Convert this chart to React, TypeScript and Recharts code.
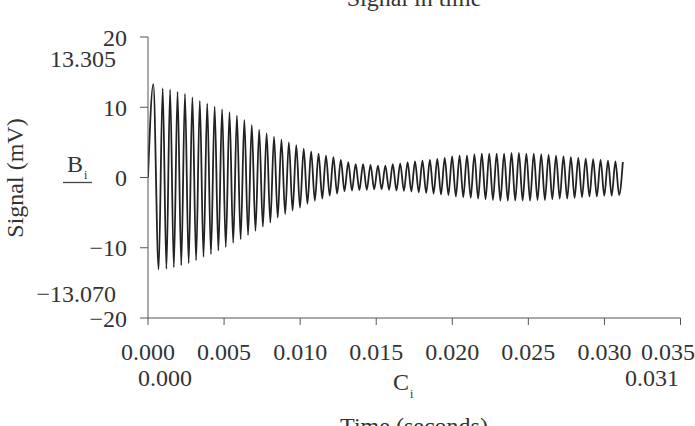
import React from "react";
import { LineChart, Line, XAxis, YAxis } from "recharts";

const xTicks = [0, 0.005, 0.01, 0.015, 0.02, 0.025, 0.03, 0.035];
const yTicks = [-20, -10, 0, 10, 20];

const startPoint = { t: 0, v: 0 };

const peakTimes = [
  0.00035, 0.000966, 0.0014538, 0.0019416, 0.0024294, 0.0029172, 0.003405, 0.0038928,
  0.0043806, 0.0048684, 0.0053562, 0.005844, 0.0063318, 0.0068196, 0.0073074, 0.0077952,
  0.008283, 0.0087708, 0.0092586, 0.0097464, 0.0102342, 0.010722, 0.0112098, 0.0116976,
  0.0121854, 0.0126732, 0.013161, 0.0136488, 0.0141366, 0.0146244, 0.0151122, 0.0156,
  0.0160878, 0.0165756, 0.0170634, 0.0175512, 0.018039, 0.0185268, 0.0190146, 0.0195024,
  0.0199902, 0.020478, 0.0209658, 0.0214536, 0.0219414, 0.0224292, 0.022917, 0.0234048,
  0.0238926, 0.0243804, 0.0248682, 0.025356, 0.0258438, 0.0263316, 0.0268194, 0.0273072,
  0.027795, 0.0282828, 0.0287706, 0.0292584, 0.0297462, 0.030234, 0.0307218, 0.0312096,
];

const peakValues = [
  13.305, 12.7, 12.5, 12.2, 11.9, 11.4, 10.9, 10.5, 10.1, 9.7, 9.3, 8.8, 8.2, 7.5, 6.8, 6.3,
  5.8, 5.4, 5.0, 4.6, 4.1, 3.7, 3.4, 3.1, 2.9, 2.5, 2.2, 1.9, 1.9, 1.8, 1.7, 1.7,
  1.9, 2.0, 2.2, 2.3, 2.4, 2.5, 2.65, 2.8, 3.0, 3.1, 3.1, 3.3, 3.4, 3.4, 3.4, 3.4,
  3.5, 3.5, 3.4, 3.4, 3.3, 3.2, 3.1, 3.0, 2.9, 2.8, 2.7, 2.6, 2.5, 2.4, 2.3, 2.2,
];

const troughTimes = [
  0.0007, 0.00121, 0.001698, 0.002186, 0.002673, 0.003161, 0.003649, 0.004137,
  0.004625, 0.005112, 0.0056, 0.006088, 0.006576, 0.007064, 0.007551, 0.008039,
  0.008527, 0.009015, 0.009503, 0.00999, 0.010478, 0.010966, 0.011454, 0.011942,
  0.012429, 0.012917, 0.013405, 0.013893, 0.014381, 0.014868, 0.015356, 0.015844,
  0.016332, 0.01682, 0.017307, 0.017795, 0.018283, 0.018771, 0.019259, 0.019746,
  0.020234, 0.020722, 0.02121, 0.021698, 0.022185, 0.022673, 0.023161, 0.023649,
  0.024137, 0.024624, 0.025112, 0.0256, 0.026088, 0.026576, 0.027063, 0.027551,
  0.028039, 0.028527, 0.029015, 0.029502, 0.02999, 0.030478, 0.030966,
];

const troughValues = [
  -13.07, -13.0, -12.8, -12.5, -12.2, -11.8, -11.3, -10.9, -10.4, -9.9, -9.3, -8.8, -8.2, -7.6, -7.0, -6.4,
  -5.7, -5.2, -4.7, -4.3, -3.75, -3.3, -3.0, -2.6, -2.3, -1.95, -1.85, -1.8, -1.75, -1.7, -1.7, -1.75,
  -1.85, -1.9, -2.0, -2.1, -2.2, -2.3, -2.4, -2.5, -2.7, -2.8, -2.9, -3.0, -3.1, -3.2, -3.3, -3.3,
  -3.3, -3.3, -3.3, -3.2, -3.2, -3.1, -3.0, -3.0, -2.9, -2.8, -2.7, -2.7, -2.6, -2.6, -2.5,
];

const data: { t: number; v: number }[] = [startPoint];
peakTimes.forEach((t, i) => {
  data.push({ t, v: peakValues[i] });
  if (i < troughTimes.length) data.push({ t: troughTimes[i], v: troughValues[i] });
});

const FONT = "'Liberation Serif', 'Times New Roman', serif";
const TXT = "#333";
const FS = 24;

const fmtX = (v: number) => v.toFixed(3);
const fmtY = (v: number) => String(v).replace("-", "\u2212");

export default function App() {
  return (
    <div style={{ position: "absolute", left: 0, top: 0, width: 695, height: 426, fontFamily: FONT, background: "#fff", overflow: "hidden" }}>
      <LineChart
        width={695}
        height={426}
        data={data}
        margin={{ top: 37, right: 14.5, bottom: 48, left: 88 }}
      >
        <XAxis
          dataKey="t"
          type="number"
          domain={[0, 0.035]}
          ticks={xTicks}
          tickFormatter={fmtX}
          height={60}
          tickSize={7}
          tickMargin={18}
          stroke="#555"
          tick={{ fontSize: FS, fill: TXT, fontFamily: FONT }}
          allowDataOverflow
        />
        <YAxis
          type="number"
          domain={[-20, 20]}
          ticks={yTicks}
          tickFormatter={fmtY}
          width={60}
          tickSize={8}
          tickMargin={13}
          stroke="#555"
          tick={{ fontSize: FS, fill: TXT, fontFamily: FONT }}
        />
        <Line
          dataKey="v"
          type="monotone"
          dot={false}
          stroke="#222"
          strokeWidth={1.8}
          isAnimationActive={false}
        />
      </LineChart>
      <svg
        width={695}
        height={426}
        style={{ position: "absolute", left: 0, top: 0, pointerEvents: "none" }}
        fontFamily={FONT}
      >
        <text x={414} y={6} textAnchor="middle" fontSize={FS} fill={TXT}>Signal in time</text>
        <text
          x={15}
          y={178}
          textAnchor="middle"
          dy="0.35em"
          fontSize={FS}
          fill={TXT}
          transform="rotate(-90, 15, 178)"
        >
          Signal (mV)
        </text>
        <text x={116} y={67} textAnchor="end" fontSize={FS} fill={TXT}>13.305</text>
        <text x={116} y={302} textAnchor="end" fontSize={FS} fill={TXT}>{"\u221213.070"}</text>
        <text x={67} y={172} fontSize={FS} fill={TXT}>B</text>
        <text x={84} y={179} fontSize={12} fill={TXT}>i</text>
        <line x1={63} y1={182.5} x2={92} y2={182.5} stroke="#444" strokeWidth={1.3} />
        <text x={165} y={386} textAnchor="middle" fontSize={FS} fill={TXT}>0.000</text>
        <text x={393} y={390} fontSize={FS} fill={TXT}>C</text>
        <text x={410} y={398} fontSize={12} fill={TXT}>i</text>
        <text x={652} y={386} textAnchor="middle" fontSize={FS} fill={TXT}>0.031</text>
        <text x={414} y={434} textAnchor="middle" fontSize={FS} fill={TXT}>Time (seconds)</text>
      </svg>
    </div>
  );
}
